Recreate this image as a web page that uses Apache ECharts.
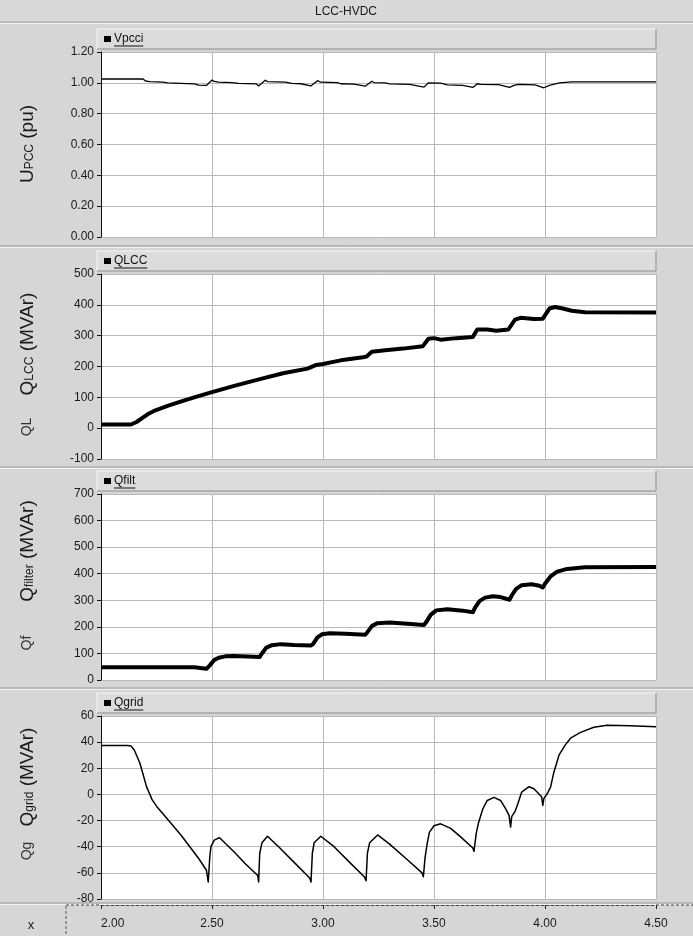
<!DOCTYPE html>
<html>
<head>
<meta charset="utf-8">
<title>LCC-HVDC</title>
<script src="https://cdn.jsdelivr.net/npm/echarts@6/dist/echarts.min.js"></script>
<style>
  html, body { margin: 0; padding: 0; background: #d6d6d6; }
  #chart { width: 693px; height: 936px; }
</style>
</head>
<body>
<div id="chart"></div>
<script>
// ---- time axis ----
const timeTicks = [2.0, 2.5, 3.0, 3.5, 4.0, 4.5];

// ---- Vpcci (pu) ----
const vpcciT = [2.00, 2.19, 2.20, 2.22, 2.28, 2.30, 2.36, 2.42, 2.44, 2.475, 2.50, 2.51, 2.53, 2.59, 2.62, 2.70, 2.71,
  2.74, 2.75, 2.83, 2.86, 2.90, 2.945, 2.975, 2.99, 3.065, 3.08, 3.14, 3.19, 3.22, 3.23, 3.28, 3.30, 3.39, 3.455,
  3.475, 3.53, 3.56, 3.63, 3.675, 3.695, 3.71, 3.79, 3.84, 3.86, 3.88, 3.955, 3.995, 4.02, 4.065, 4.12, 4.50];
const vpcciV = [1.025, 1.025, 1.012, 1.008, 1.004, 1.000, 0.997, 0.993, 0.985, 0.983, 1.018, 1.009, 1.004, 1.002, 0.996, 0.993, 0.980,
  1.017, 1.008, 1.004, 0.996, 0.994, 0.980, 1.014, 1.004, 1.002, 0.994, 0.992, 0.978, 1.010, 1.002, 1.000, 0.993, 0.990, 0.972,
  1.000, 0.998, 0.987, 0.983, 0.970, 0.994, 0.990, 0.988, 0.970, 0.984, 0.990, 0.987, 0.968, 0.984, 1.000, 1.006, 1.006];

// ---- QLCC (MVAr) ----
const qlccT = [2.00, 2.135, 2.16, 2.19, 2.21, 2.245, 2.30, 2.355, 2.42, 2.50, 2.60, 2.72, 2.82, 2.93, 2.97, 3.00, 3.08, 3.18,
  3.195, 3.22, 3.28, 3.36, 3.45, 3.475, 3.50, 3.53, 3.60, 3.675, 3.695, 3.74, 3.78, 3.835, 3.865, 3.89, 3.95, 3.99,
  4.02, 4.045, 4.08, 4.12, 4.18, 4.50];
const qlccV = [12, 12, 20, 35, 45, 58, 72, 85, 100, 117, 137, 160, 178, 193, 205, 208, 220, 230,
  232, 248, 253, 258, 266, 290, 292, 287, 292, 296, 320, 320, 316, 320, 352, 358, 354, 355,
  388, 393, 388, 381, 376, 375];

// ---- Qfilt (MVAr) ----
const qfiltT = [2.00, 2.42, 2.425, 2.475, 2.49, 2.51, 2.53, 2.56, 2.60, 2.66, 2.715, 2.725, 2.745, 2.77, 2.81, 2.87, 2.945,
  2.955, 2.975, 2.995, 3.03, 3.10, 3.19, 3.20, 3.22, 3.245, 3.30, 3.38, 3.455, 3.465, 3.485, 3.51, 3.56, 3.63, 3.675,
  3.685, 3.705, 3.73, 3.765, 3.80, 3.84, 3.85, 3.87, 3.895, 3.94, 3.975, 3.99, 4.00, 4.025, 4.055, 4.10, 4.18, 4.50];
const qfiltV = [48, 48, 42, 42, 55, 75, 84, 89, 90, 88, 87, 100, 122, 131, 135, 132, 130,
  135, 160, 172, 176, 174, 170, 180, 203, 214, 216, 212, 207, 218, 245, 262, 266, 261, 255,
  272, 297, 310, 315, 312, 302, 318, 343, 357, 360, 355, 348, 362, 390, 408, 418, 424, 425];

// ---- Qgrid (MVAr) ----
const qgridT = [2.00, 2.12, 2.135, 2.15, 2.16, 2.175, 2.19, 2.205, 2.215, 2.23, 2.25, 2.28, 2.32, 2.36, 2.40, 2.44, 2.475, 2.483,
  2.49, 2.495, 2.51, 2.533, 2.60, 2.65, 2.706, 2.71, 2.715, 2.725, 2.75, 2.80, 2.87, 2.94, 2.946,
  2.952, 2.96, 2.99, 3.05, 3.12, 3.186, 3.194, 3.20, 3.21, 3.246, 3.30, 3.38, 3.446, 3.452,
  3.46, 3.468, 3.479, 3.50, 3.53, 3.575, 3.62, 3.675, 3.68, 3.69, 3.70, 3.72, 3.74, 3.77, 3.80, 3.823, 3.838,
  3.845, 3.85, 3.865, 3.88, 3.895, 3.928, 3.95, 3.972, 3.985, 3.99, 3.995, 4.01, 4.025, 4.04, 4.063, 4.09,
  4.115, 4.16, 4.22, 4.28, 4.386, 4.50];
const qgridV = [37.5, 37.5, 37, 34, 30, 24, 15, 6, 2, -4, -9, -15, -23, -31, -40, -49, -58, -67,
  -48, -40, -35, -33, -44, -53, -62, -67, -45, -37, -32, -40, -52, -64, -67,
  -45, -37, -32, -40, -52, -63, -66, -45, -37, -31, -38, -50, -60, -63,
  -48, -39, -29, -24, -22.5, -26, -32.5, -41, -43.5, -30, -22, -11, -4.6, -2.3, -4.6, -11, -16,
  -25, -17, -13, -6, 1.8, 5.9, 4.3, 0.5, -2, -8.4, -3, 0.5, 5.6, 17, 30, 37.5,
  43, 47.5, 51.4, 53, 52.5, 51.7];

// ---- panel names and axis labels ----
const seriesNames = ['Vpcci', 'QLCC', 'Qfilt', 'Qgrid'];
const shortNames = ['', 'QL', 'Qf', 'Qg'];
const axisTitles = [
  ['U', 'PCC', ' (pu)'],
  ['Q', 'LCC', ' (MVAr)'],
  ['Q', 'filter', ' (MVAr)'],
  ['Q', 'grid', ' (MVAr)']
];
const yMin = [0, -100, 0, -80];
const yMax = [1.2, 500, 700, 60];
const yStep = [0.2, 100, 100, 20];

// ---- layout ----
const FONT = '"Liberation Sans", Arial, sans-serif';
const plotLeft = 101, plotRight = 656;
const panels = [
  { top: 52, bottom: 237, legendTop: 29, titleY: 144, shortY: 0 },
  { top: 274, bottom: 459, legendTop: 251, titleY: 344, shortY: 427 },
  { top: 494, bottom: 680, legendTop: 471, titleY: 551, shortY: 643 },
  { top: 716, bottom: 899, legendTop: 693, titleY: 777, shortY: 851 }
];
const separators = [22, 246, 467, 688, 903];
const lineWidths = [1.3, 4, 4, 1.5];

const seriesData = [
  vpcciT.map((t, i) => [t, vpcciV[i]]),
  qlccT.map((t, i) => [t, qlccV[i]]),
  qfiltT.map((t, i) => [t, qfiltV[i]]),
  qgridT.map((t, i) => [t, qgridV[i]])
];

const grids = panels.map(p => ({
  left: plotLeft, top: p.top, width: plotRight - plotLeft, height: p.bottom - p.top,
  show: true, backgroundColor: '#ffffff', borderWidth: 0
}));

const gridLine = { show: true, lineStyle: { color: '#b9b9b9', width: 1, type: 'solid' } };

const xAxes = panels.map((p, i) => ({
  type: 'value', gridIndex: i, min: timeTicks[0], max: timeTicks[timeTicks.length - 1], interval: 0.5,
  axisLine: { show: false }, axisTick: { show: false }, axisLabel: { show: false },
  splitLine: gridLine
}));
// time scale shown in the bottom strip
xAxes.push({
  type: 'value', gridIndex: 3, position: 'bottom', offset: 6,
  min: timeTicks[0], max: timeTicks[timeTicks.length - 1], interval: 0.5,
  axisLine: { show: true, onZero: false, lineStyle: { color: '#444', width: 1, type: [3, 2] } },
  axisTick: { show: true, length: 4, lineStyle: { color: '#222' } },
  axisLabel: { show: true, margin: 13, fontSize: 12, color: '#1a1a1a', fontFamily: FONT,
    alignMinLabel: 'left', formatter: v => v.toFixed(2) },
  splitLine: { show: false }
});

const yAxes = panels.map((p, i) => ({
  type: 'value', gridIndex: i, min: yMin[i], max: yMax[i], interval: yStep[i],
  axisLine: { show: true, onZero: false, lineStyle: { color: '#111', width: 1 } },
  axisTick: { show: true, length: 4, lineStyle: { color: '#111' } },
  axisLabel: { show: true, margin: 7, fontSize: 12, color: '#1a1a1a', fontFamily: FONT,
    formatter: v => (i === 0 ? v.toFixed(2) : String(Math.round(v))) },
  splitLine: gridLine
}));

const series = seriesData.map((d, i) => ({
  name: seriesNames[i], type: 'line', xAxisIndex: i, yAxisIndex: i,
  data: d, showSymbol: false, symbol: 'none', smooth: false, animation: false,
  lineStyle: { color: '#000', width: lineWidths[i], join: 'round' }
}));

// ---- decorations: title bar, panel frames, legend bars, axis titles ----
const graphics = [];
// title bar
graphics.push({ type: 'rect', shape: { x: 0, y: 0, width: 693, height: 22 }, style: { fill: '#d9d9d9' }, z: -5 });
graphics.push({ type: 'text', x: 346, y: 12, style: { text: 'LCC-HVDC', fill: '#1a1a1a', font: '12px ' + FONT, align: 'center', verticalAlign: 'middle' } });
// separators
separators.forEach(y => {
  graphics.push({ type: 'line', shape: { x1: 0, y1: y, x2: 693, y2: y }, style: { stroke: '#9c9c9c', lineWidth: 1 } });
  graphics.push({ type: 'line', shape: { x1: 0, y1: y + 1.5, x2: 693, y2: y + 1.5 }, style: { stroke: '#f2f2f2', lineWidth: 1 } });
});

panels.forEach((p, i) => {
  const ly = p.legendTop;
  // legend bar
  graphics.push({ type: 'rect', shape: { x: 97, y: ly, width: plotRight - 97, height: 20 },
    style: { fill: '#dcdcdc', stroke: null } });
  graphics.push({ type: 'polyline', shape: { points: [[97, ly + 20], [97, ly], [plotRight, ly]] },
    style: { stroke: '#f7f7f7', lineWidth: 1, fill: null } });
  graphics.push({ type: 'polyline', shape: { points: [[97, ly + 20], [plotRight, ly + 20], [plotRight, ly]] },
    style: { stroke: '#8c8c8c', lineWidth: 1, fill: null } });
  graphics.push({ type: 'rect', shape: { x: 104, y: ly + 7, width: 7, height: 6 }, style: { fill: '#000' } });
  graphics.push({ type: 'text', x: 114, y: ly + 10, style: { text: seriesNames[i], fill: '#111', font: '12px ' + FONT, align: 'left', verticalAlign: 'middle' } });
  const w = echarts.format.getTextRect ? echarts.format.getTextRect(seriesNames[i], '12px ' + FONT).width : seriesNames[i].length * 7;
  graphics.push({ type: 'line', shape: { x1: 114, y1: ly + 17, x2: 114 + w, y2: ly + 17 }, style: { stroke: '#111', lineWidth: 1 } });

  // rotated axis title with subscript
  const t = axisTitles[i];
  graphics.push({
    type: 'text', x: 26, y: p.titleY, rotation: Math.PI / 2,
    style: {
      text: '{m|' + t[0] + '}{s|' + t[1] + '}{m|' + t[2] + '}',
      align: 'center', verticalAlign: 'middle',
      rich: {
        m: { fontSize: 19, fontFamily: FONT, fill: '#1a1a1a', lineHeight: 22, verticalAlign: 'bottom' },
        s: { fontSize: 12, fontFamily: FONT, fill: '#1a1a1a', lineHeight: 22, verticalAlign: 'bottom', padding: [0, 0, 1, 0] }
      }
    }
  });
  if (shortNames[i]) {
    graphics.push({ type: 'text', x: 27, y: p.shortY, rotation: Math.PI / 2,
      style: { text: shortNames[i], fill: '#333', font: '14px ' + FONT, align: 'center', verticalAlign: 'middle' } });
  }
});

// bottom time strip
graphics.push({ type: 'line', shape: { x1: 66, y1: 905, x2: plotLeft, y2: 905 }, style: { stroke: '#444', lineWidth: 1, lineDash: [3, 2] } });
graphics.push({ type: 'line', shape: { x1: plotRight, y1: 905, x2: 693, y2: 905 }, style: { stroke: '#444', lineWidth: 1, lineDash: [3, 2] } });
graphics.push({ type: 'line', shape: { x1: 66, y1: 906, x2: 66, y2: 936 }, style: { stroke: '#555', lineWidth: 1, lineDash: [3, 2] } });
graphics.push({ type: 'text', x: 31, y: 925, style: { text: 'x', fill: '#1a1a1a', font: '13px ' + FONT, align: 'center', verticalAlign: 'middle' } });

const chart = echarts.init(document.getElementById('chart'), null, { renderer: 'canvas' });
chart.setOption({
  backgroundColor: '#d6d6d6',
  animation: false,
  grid: grids,
  xAxis: xAxes,
  yAxis: yAxes,
  series: series,
  graphic: { elements: graphics }
});
</script>
</body>
</html>
